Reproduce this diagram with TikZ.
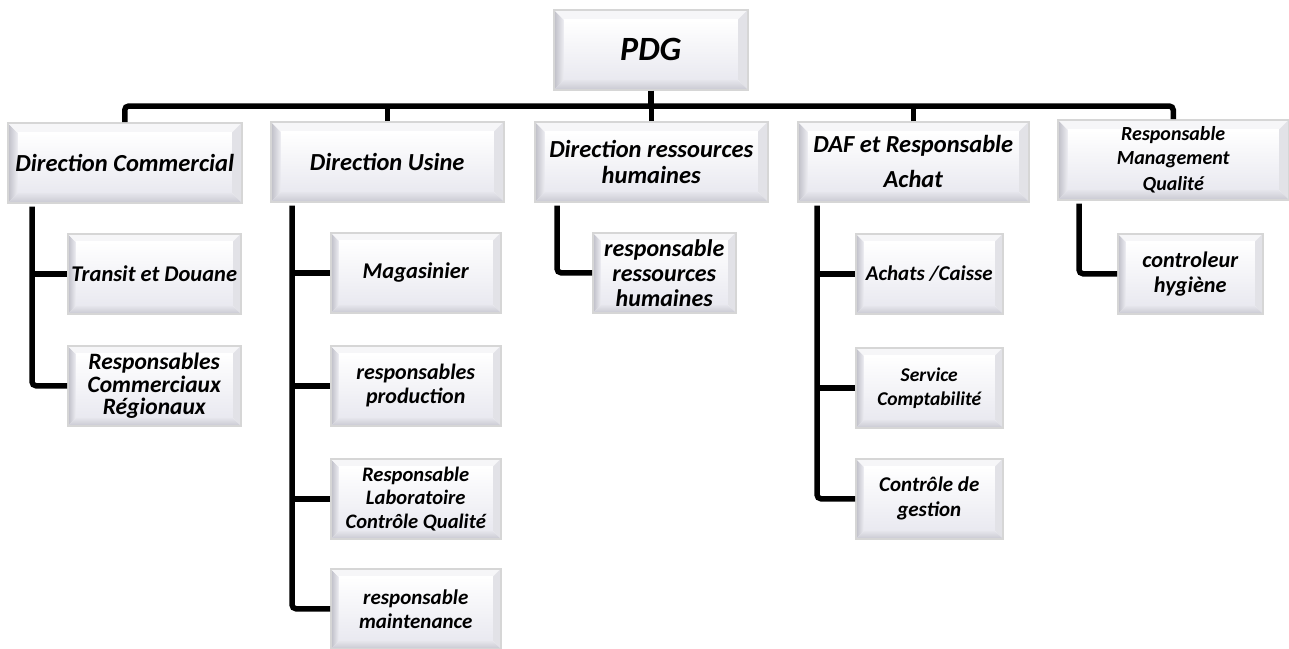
\documentclass[tikz,border=0pt]{standalone}
\usepackage{fontspec}
\setmainfont{Carlito}
\usetikzlibrary{calc}
\definecolor{frame}{HTML}{D6D6D6}
\definecolor{bevL1}{HTML}{BDBDC6}
\definecolor{bevL2}{HTML}{EDEDF2}
\definecolor{bevT}{HTML}{F6F6F8}
\definecolor{bevR}{HTML}{E2E2E7}
\definecolor{bevB1}{HTML}{E6E6EC}
\definecolor{bevB2}{HTML}{C9C9D2}
\definecolor{face2}{HTML}{E9E9F0}
\tikzset{
  bevelsize/.store in=\bevsz, bevelsize=10pt,
  fs/.style 2 args={font=\bfseries\itshape\fontsize{#1}{#2}\selectfont},
  orgbox/.style={rectangle, inner sep=2pt, align=center, anchor=north west,
    draw=frame, line width=1.5pt, fs={21.5}{24},
    path picture={
      \path (path picture bounding box.south west) coordinate (A)
            (path picture bounding box.north east) coordinate (C);
      \path (A|-C) coordinate (B) (C|-A) coordinate (D);
      \path ([shift={(\bevsz,\bevsz)}]A) coordinate (a)
            ([shift={(-\bevsz,-\bevsz)}]C) coordinate (c);
      \path (a|-c) coordinate (b) (c|-a) coordinate (d);
      \shade[left color=bevL1, right color=bevL2] (A)--(B)--(b)--(a)--cycle;
      \fill[bevT] (B)--(C)--(c)--(b)--cycle;
      \fill[bevR] (C)--(D)--(d)--(c)--cycle;
      \shade[top color=bevB1, bottom color=bevB2] (D)--(A)--(a)--(d)--cycle;
      \shade[top color=white, bottom color=face2] (a) rectangle (c);
    }},
  headbox/.style={orgbox, minimum height=80pt, fs={24.5}{26}},
  subbox/.style={orgbox, bevelsize=8pt, minimum height=80pt},
  conn/.style={line width=5.5pt, rounded corners=4pt}
}
\begin{document}
\begin{tikzpicture}[x=1pt, y=-1pt]
\useasboundingbox (0,0) rectangle (1289,648);

% top of the chart
\node[headbox, minimum width=194pt, fs={34}{38}] (pdg) at (553,9) {PDG};

% directions
\node[headbox, minimum width=234pt] (dc)  at (7,122)    {Direction Commercial};
\node[headbox, minimum width=233pt] (du)  at (270,121)  {Direction Usine};
\node[headbox, minimum width=233pt] (drh) at (534,121)  {Direction ressources\\humaines};
\node[headbox, minimum width=231pt] (daf) at (797,121)  {DAF et Responsable\\[9pt]Achat};
\node[headbox, minimum width=231pt, fs={20}{24}] (rmq) at (1057,119) {Responsable\\Management\\[2pt]Qualité};

% services
\node[subbox, minimum width=173pt, fs={22.5}{25}] (c1) at (67,233)  {Transit et Douane};
\node[subbox, minimum width=173pt, fs={23.5}{22.5}] (c2) at (67,345)  {Responsables\\Commerciaux\\Régionaux};
\node[subbox, minimum width=170pt, fs={22.5}{25}] (u1) at (330,232) {Magasinier};
\node[subbox, minimum width=170pt, fs={22}{24}] (u2) at (330,345) {responsables\\production};
\node[subbox, minimum width=170pt, fs={20.6}{23.5}] (u3) at (330,458) {Responsable\\Laboratoire\\Contrôle Qualité};
\node[subbox, minimum width=170pt, fs={21}{24}] (u4) at (330,568) {responsable\\maintenance};
\node[subbox, minimum width=143pt, fs={24}{25}] (h1) at (592,232) {responsable\\ressources\\humaines};
\node[subbox, minimum width=147pt, fs={21}{24}] (f1) at (855,233) {Achats /Caisse};
\node[subbox, minimum width=147pt, fs={19.5}{24}] (f2) at (855,347) {Service\\Comptabilité};
\node[subbox, minimum width=147pt, fs={21}{25}] (f3) at (855,458) {Contrôle de\\gestion};
\node[subbox, minimum width=145pt, fs={22.3}{25}] (q1) at (1117,233) {controleur\\hygiène};

% main bus
\coordinate (bus) at (650,106);
\draw[conn] (dc.north) |- (bus) -| (rmq.north);
\draw[conn] (pdg.south) -- (pdg.south |- bus);
\draw[conn] (du.north) -- (du.north |- bus);
\draw[conn] (drh.north) -- (drh.north |- bus);
\draw[conn] (daf.north) -- (daf.north |- bus);

% branch spines below each direction
\coordinate (dcv)  at ([xshift=25pt, yshift=-3pt]dc.south west);
\coordinate (duv)  at ([xshift=22pt, yshift=-3pt]du.south west);
\coordinate (drhv) at ([xshift=23pt, yshift=-3pt]drh.south west);
\coordinate (dafv) at ([xshift=20pt, yshift=-3pt]daf.south west);
\coordinate (rmqv) at ([xshift=22pt, yshift=-3pt]rmq.south west);

\draw[conn] (dcv) |- (c2.west);
\draw[conn] (dcv |- c1.west) -- (c1.west);

\draw[conn] (duv) |- (u4.west);
\draw[conn] (duv |- u1.west) -- (u1.west);
\draw[conn] (duv |- u2.west) -- (u2.west);
\draw[conn] (duv |- u3.west) -- (u3.west);

\draw[conn] (drhv) |- (h1.west);

\draw[conn] (dafv) |- (f3.west);
\draw[conn] (dafv |- f1.west) -- (f1.west);
\draw[conn] (dafv |- f2.west) -- (f2.west);

\draw[conn] (rmqv) |- (q1.west);
\end{tikzpicture}
\end{document}
